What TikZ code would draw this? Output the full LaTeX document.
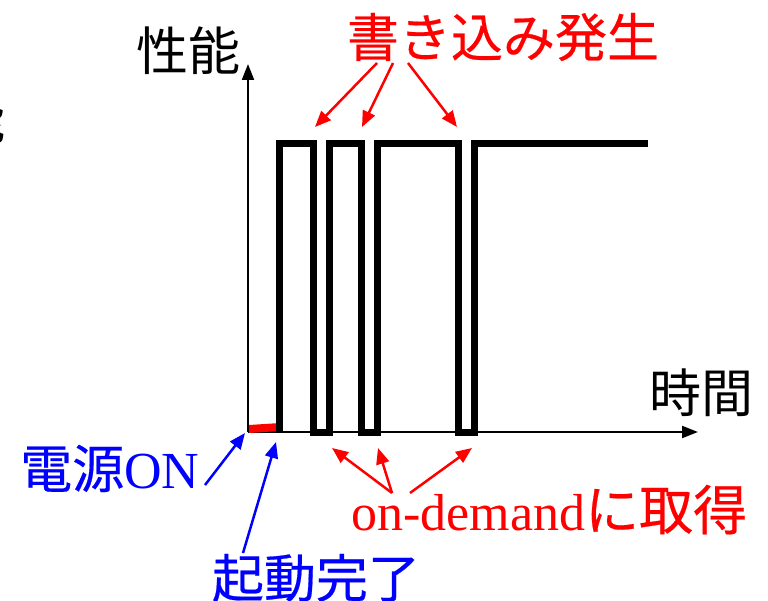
\documentclass[tikz,border=0pt]{standalone}
\usepackage{fontspec}
\setmainfont{Liberation Serif}
\newfontfamily\jp{Noto Sans CJK JP}
\newfontfamily\jpb[FakeBold=0.4]{Noto Sans CJK JP}
\usetikzlibrary{arrows.meta}
\definecolor{myred}{RGB}{255,0,0}
\definecolor{myblue}{RGB}{0,0,255}
\begin{document}
\begin{tikzpicture}[x=1pt,y=-1pt,
  lbl/.style={inner sep=0pt, font=\fontsize{52}{60}\selectfont},
  axisline/.style={line width=2pt, -{Triangle[length=16pt,width=12pt]}},
  wave/.style={line width=7pt, line join=miter},
  ptr/.style={line width=2.5pt, -{Triangle[length=16pt,width=13pt]}}]
\useasboundingbox (0,0) rectangle (768,601);

% clipped glyph at left edge
\node[lbl] (frag) at (-20,120) {\jp 能};

% axes
\coordinate (O) at (248,432);
\coordinate (ytip) at (248,64);
\coordinate (xtip) at (698,432);
\draw[axisline] (O) -- (ytip);
\draw[axisline] (O) -- (xtip);

% axis labels
\node[lbl] (perf) at (188,51) {\jp 性能};
\node[lbl] (time) at (701,393) {\jp 時間};

% startup segment
\fill[myred] (249,425) -- (280,423) -- (280,431) -- (249,433) -- cycle;

% waveform
\draw[wave] (279,432) -- (279,144) -- (313,144) -- (313,432) -- (329,432)
  -- (329,144) -- (361,144) -- (361,432) -- (377,432) -- (377,144)
  -- (458,144) -- (458,432) -- (474,432) -- (474,144) -- (648,144);

% write labels
\node[lbl, text=myred] (write) at (503,37) {\jpb 書き込み発生};
\coordinate (w1s) at (377,63);
\coordinate (w2s) at (393,63);
\coordinate (w3s) at (408,63);
\coordinate (w1e) at (315,127);
\coordinate (w2e) at (362,127);
\coordinate (w3e) at (457,127);
\draw[ptr, myred] (w1s) -- (w1e);
\draw[ptr, myred] (w2s) -- (w2e);
\draw[ptr, myred] (w3s) -- (w3e);

% on-demand
\node[lbl, text=myred, anchor=base west] (ondemand) at (351,530) {on-demand{\jpb\fontsize{54}{60}\selectfont に取得}};
\coordinate (d1s) at (392,493);
\coordinate (d2s) at (410,493);
\coordinate (d1e) at (332,448);
\coordinate (d2e) at (378,448);
\coordinate (d3e) at (472,448);
\draw[ptr, myred] (d1s) -- (d1e);
\draw[ptr, myred] (d1s) -- (d2e);
\draw[ptr, myred] (d2s) -- (d3e);

% blue labels
\node[lbl, text=myblue, anchor=base west] (power) at (20,488) {{\jpb 電源}ON};
\node[lbl, text=myblue] (boot) at (316,578) {\jpb 起動完了};
\coordinate (p1s) at (205,485);
\coordinate (p1e) at (245,433);
\coordinate (p2s) at (243,553);
\coordinate (p2e) at (276,442);
\draw[ptr, myblue] (p1s) -- (p1e);
\draw[ptr, myblue] (p2s) -- (p2e);
\end{tikzpicture}
\end{document}
